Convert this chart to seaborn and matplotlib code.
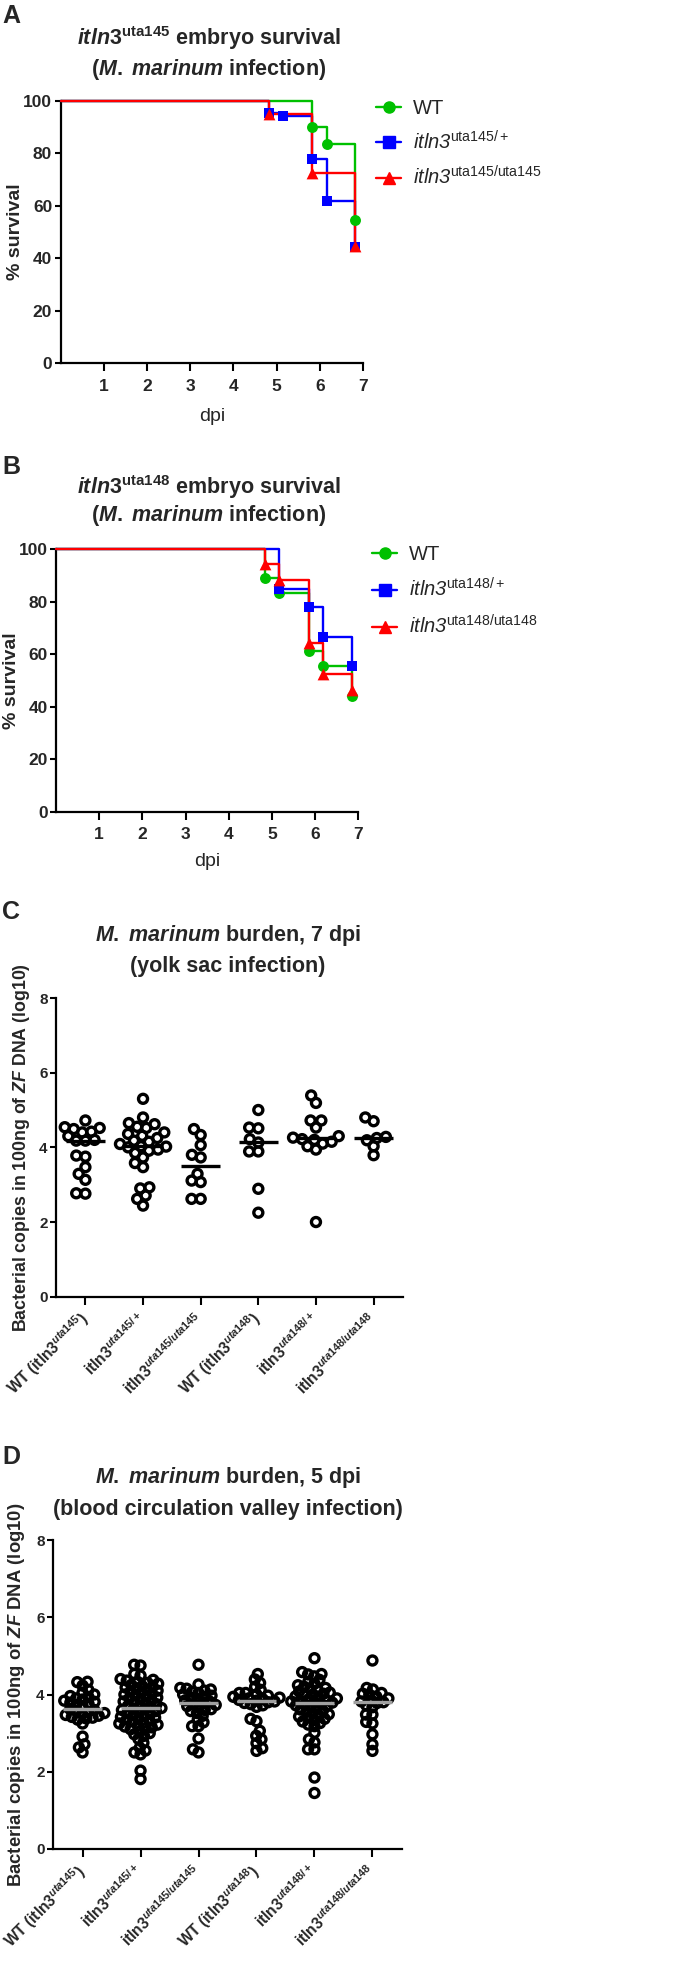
import numpy as np
import pandas as pd
import matplotlib
matplotlib.use("Agg")
import matplotlib.pyplot as plt
import seaborn as sns
from matplotlib import font_manager
from matplotlib.lines import Line2D
import warnings
warnings.filterwarnings("ignore")

# ---------------- data ----------------
# Panel A: itln3 uta145 survival (dpi, % survival)
A_WT_T = [0, 5.83, 6.16, 6.82]
A_WT_S = [100, 90.2, 83.6, 54.6]
A_HET_T = [0, 4.83, 5.16, 5.83, 6.16, 6.82]
A_HET_S = [100, 95.6, 94.3, 78.0, 61.8, 44.2]
A_HOM_T = [0, 4.83, 5.83, 6.82]
A_HOM_S = [100, 94.9, 72.4, 44.7]
A_LABELS = ["WT", r"$\mathcal{itln3}^{\mathsf{uta145/+}}$", r"$\mathcal{itln3}^{\mathsf{uta145/uta145}}$"]

# Panel B: itln3 uta148 survival
B_WT_T = [0, 4.84, 5.17, 5.85, 6.18, 6.85]
B_WT_S = [100, 88.8, 83.1, 61.0, 55.6, 44.2]
B_HET_T = [0, 5.17, 5.85, 6.18, 6.85]
B_HET_S = [100, 84.8, 77.8, 66.6, 55.5]
B_HOM_T = [0, 4.84, 5.17, 5.85, 6.18, 6.85]
B_HOM_S = [100, 94.2, 88.2, 64.1, 52.5, 46.3]
B_LABELS = ["WT", r"$\mathcal{itln3}^{\mathsf{uta148/+}}$", r"$\mathcal{itln3}^{\mathsf{uta148/uta148}}$"]

# Panel C: burden 7 dpi (log10 copies)
C_WT145 = [4.72, 4.54, 4.52, 4.49, 4.42, 4.40, 4.30, 4.20, 4.18, 4.18, 3.78, 3.75, 3.47, 3.29, 3.13, 2.77, 2.76]
C_HET145 = [5.30, 4.80, 4.65, 4.62, 4.55, 4.52, 4.40, 4.36, 4.31, 4.25, 4.18, 4.15, 4.09, 4.03, 4.02,
            4.00, 3.94, 3.91, 3.85, 3.73, 3.58, 3.47, 2.93, 2.90, 2.71, 2.62, 2.44]
C_HOM145 = [4.49, 4.33, 4.06, 3.80, 3.73, 3.29, 3.11, 3.07, 2.62, 2.62]
C_WT148 = [5.00, 4.53, 4.51, 4.22, 4.13, 3.89, 3.89, 2.89, 2.25]
C_HET148 = [5.39, 5.19, 4.72, 4.72, 4.53, 4.30, 4.26, 4.22, 4.20, 4.15, 4.10, 4.03, 3.94, 2.00]
C_HOM148 = [4.80, 4.70, 4.28, 4.25, 4.19, 4.03, 3.79]

# Panel D: burden 5 dpi (log10 copies)
D_WT145 = [4.33, 4.32, 4.23, 4.12, 4.05, 4.00, 3.96, 3.93, 3.90, 3.87, 3.84, 3.81, 3.79, 3.76, 3.73,
           3.70, 3.62, 3.60, 3.57, 3.55, 3.52, 3.50, 3.47, 3.45, 3.42, 3.40, 3.38, 3.35, 3.25, 2.91,
           2.71, 2.63, 2.50]
D_HET145 = [4.77, 4.75, 4.53, 4.49, 4.40, 4.38, 4.36, 4.33, 4.30, 4.28,
            4.25, 4.22, 4.20, 4.18, 4.15, 4.12, 4.10, 4.08, 4.05, 4.02,
            4.00, 3.98, 3.95, 3.92, 3.90, 3.88, 3.85, 3.82, 3.80, 3.78,
            3.75, 3.72, 3.70, 3.68, 3.65, 3.63, 3.62, 3.60, 3.57, 3.55,
            3.52, 3.50, 3.47, 3.45, 3.42, 3.40, 3.37, 3.35, 3.32, 3.30,
            3.27, 3.25, 3.22, 3.20, 3.17, 3.15, 3.12, 3.10, 3.05, 3.00,
            2.97, 2.93, 2.85, 2.75, 2.62, 2.55, 2.50, 2.45, 2.03, 1.81]
D_HOM145 = [4.77, 4.26, 4.17, 4.15, 4.13, 4.10, 4.07, 4.04, 4.00, 3.97,
            3.94, 3.91, 3.88, 3.85, 3.82, 3.79, 3.76, 3.73, 3.70, 3.67,
            3.62, 3.60, 3.57, 3.52, 3.45, 3.35, 3.28, 3.18, 3.18, 2.86, 2.58, 2.50]
D_WT148 = [4.53, 4.39, 4.30, 4.20, 4.12, 4.04, 4.04, 4.00, 3.97, 3.94,
           3.92, 3.90, 3.88, 3.86, 3.84, 3.82, 3.80, 3.78, 3.75, 3.72,
           3.68, 3.37, 3.31, 3.06, 2.93, 2.84, 2.74, 2.61, 2.54]
D_HET148 = [4.94, 4.58, 4.53, 4.52, 4.47, 4.38, 4.33, 4.28, 4.24, 4.20,
            4.17, 4.14, 4.11, 4.08, 4.05, 4.02, 4.00, 3.98, 3.95, 3.92,
            3.90, 3.88, 3.86, 3.84, 3.82, 3.80, 3.79, 3.77, 3.74, 3.72,
            3.70, 3.67, 3.64, 3.61, 3.58, 3.55, 3.52, 3.49, 3.46, 3.43,
            3.40, 3.37, 3.34, 3.30, 3.26, 3.22, 3.18, 3.01, 2.84, 2.76,
            2.58, 2.58, 1.85, 1.45]
D_HOM148 = [4.88, 4.17, 4.13, 4.04, 4.02, 4.00, 3.95, 3.90, 3.85, 3.82, 3.80,
            3.78, 3.72, 3.67, 3.48, 3.48, 3.29, 3.25, 2.97, 2.71, 2.54]

CATS = ["WT145", "HET145", "HOM145", "WT148", "HET148", "HOM148"]
XLABELS = [r"WT (itln3$^{\mathit{uta145}}$)", r"itln3$^{\mathit{uta145/+}}$",
           r"itln3$^{\mathit{uta145/uta145}}$", r"WT (itln3$^{\mathit{uta148}}$)",
           r"itln3$^{\mathit{uta148/+}}$", r"itln3$^{\mathit{uta148/uta148}}$"]
YLABEL_BURDEN = r"Bacterial copies in 100ng of $\mathbfit{ZF}$ DNA (log10)"

# ---------------- style ----------------
sns.set_theme(style="ticks")
names = {f.name for f in font_manager.fontManager.ttflist}
NARROW = "Liberation Sans Narrow" if "Liberation Sans Narrow" in names else "Liberation Sans"
WIDE = "Liberation Sans"
plt.rcParams["font.family"] = [NARROW, "Liberation Sans", "DejaVu Sans"]
plt.rcParams["mathtext.fontset"] = "custom"
plt.rcParams["mathtext.rm"] = NARROW + ":bold"
plt.rcParams["mathtext.bf"] = NARROW + ":bold"
plt.rcParams["mathtext.it"] = NARROW + ":italic:bold"
plt.rcParams["mathtext.bfit"] = WIDE + ":italic:bold"
plt.rcParams["mathtext.sf"] = NARROW
plt.rcParams["mathtext.cal"] = NARROW + ":italic"

W, H = 685, 1973
fig = plt.figure(figsize=(W / 100, H / 100), dpi=100)


def rect(l, r, t, b):
    return [l / W, 1 - b / H, (r - l) / W, (b - t) / H]


GREEN, BLUE, RED = "#00C000", "#0000FF", "#FF0000"
COLORS = [GREEN, BLUE, RED]
MARKERS = ["o", "s", "^"]
MSIZES = [62, 56, 72]
RING_SIZE, RING_LW = 6.5, 2.4


def style_axes(ax, xlen=5, ylen=4.5):
    for sp in ["top", "right"]:
        ax.spines[sp].set_visible(False)
    for sp in ["left", "bottom"]:
        ax.spines[sp].set_linewidth(1.6)
        ax.spines[sp].set_color("black")
    ax.tick_params(axis="x", length=xlen, width=1.5, color="black")
    ax.tick_params(axis="y", length=ylen, width=1.5, color="black", pad=1.5)
    ax.set_facecolor("white")


def survival(ax, series, labels, legend_xy, spacing, letter, title1, title2, ttl_y, letter_y, ylab_x, xlab_y):
    for i, ((t, s), c, m, sz) in enumerate(zip(series, COLORS, MARKERS, MSIZES)):
        df = pd.DataFrame({"t": t, "s": s})
        sns.lineplot(data=df, x="t", y="s", ax=ax, color=c, lw=1.7, drawstyle="steps-post",
                     estimator=None, sort=False, clip_on=False, zorder=3 + i)
        sns.scatterplot(data=df.iloc[1:], x="t", y="s", ax=ax, color=c, marker=m, s=sz,
                        edgecolor=c, linewidth=0, clip_on=False, zorder=6 + i)
    ax.set_xlim(0, 7)
    ax.set_ylim(0, 100)
    ax.set_xticks(range(1, 8))
    ax.set_yticks(range(0, 101, 20))
    style_axes(ax, xlen=6, ylen=4.5)
    for lab in ax.get_xticklabels() + ax.get_yticklabels():
        lab.set_fontweight("bold")
        lab.set_fontsize(12.5)
    ax.tick_params(axis="x", pad=5)
    ax.set_xlabel("dpi", fontsize=14, family=[NARROW])
    ax.set_ylabel("% survival", fontsize=14, fontweight="bold", family=[WIDE])
    ax.yaxis.set_label_coords(ylab_x, 0.5)
    ax.xaxis.set_label_coords(0.5, xlab_y)
    handles = [Line2D([], [], color=c, marker=m, markersize=8, lw=1.7) for c, m in zip(COLORS, MARKERS)]
    ax.legend(handles, labels, loc="upper left", bbox_to_anchor=legend_xy, bbox_transform=fig.transFigure,
              frameon=False, borderpad=0, borderaxespad=0, handlelength=1.25, handletextpad=0.6,
              labelspacing=spacing, prop={"family": [NARROW], "size": 14.5})
    fig.text(2 / W, 1 - letter_y / H, letter, fontsize=18, fontweight="bold", family=[WIDE], va="center")
    fig.text(209 / W, 1 - ttl_y[0] / H, title1, fontsize=15.5, fontweight="bold", ha="center", va="center")
    fig.text(209 / W, 1 - ttl_y[1] / H, title2, fontsize=15.5, fontweight="bold", ha="center", va="center")


def burden(ax, groups, linecolor, letter, title1, title2, ttl_y, letter_y, ylab_x, ylab_size,
           layout_size, layout_lw):
    df = pd.DataFrame({"g": [k for k, v in zip(CATS, groups) for _ in v],
                       "v": [x for v in groups for x in v]})
    ax.set_ylim(0, 8)
    ax.set_xlim(-0.51, 5.51)
    # swarm laid out with a smaller footprint so that rings overlap like the original
    sns.swarmplot(data=df, x="g", y="v", order=CATS, ax=ax, size=layout_size, color="black",
                  linewidth=layout_lw, edgecolor="black", warn_thresh=1, zorder=3)
    ax.set_ylim(0, 8)
    ax.set_xlim(-0.51, 5.51)
    ax._swarm_colls = list(ax.collections)
    for i, v in enumerate(groups):
        ax.hlines(np.median(v), i - 0.34, i + 0.34, color=linecolor, lw=2.4, zorder=6)
    ax.set_yticks([0, 2, 4, 6, 8])
    style_axes(ax, xlen=6, ylen=4.5)
    ax.set_xticks(range(6))
    ax.set_xticklabels(XLABELS, rotation=45, ha="right", va="center", rotation_mode="anchor",
                       fontsize=11.2, fontweight="bold")
    ax.tick_params(axis="x", pad=8)
    for lab in ax.get_yticklabels():
        lab.set_fontweight("bold")
        lab.set_fontsize(11)
    ax.set_xlabel("")
    ax.set_ylabel(YLABEL_BURDEN, fontsize=ylab_size, fontweight="bold", family=[WIDE])
    ax.yaxis.set_label_coords(ylab_x, 0.5)
    fig.text(2 / W, 1 - letter_y / H, letter, fontsize=18, fontweight="bold", family=[WIDE], va="center")
    fig.text(228 / W, 1 - ttl_y[0] / H, title1, fontsize=15.5, fontweight="bold", ha="center", va="center")
    fig.text(228 / W, 1 - ttl_y[1] / H, title2, fontsize=15.5, fontweight="bold", ha="center", va="center")


MMAR = r"$\mathit{M.}$ $\mathit{marinum}$"

axA = fig.add_axes(rect(60.5, 363, 101, 363.3))
survival(axA, [(A_WT_T, A_WT_S), (A_HET_T, A_HET_S), (A_HOM_T, A_HOM_S)], A_LABELS,
         (376 / W, 1 - 99 / H), 0.6, "A",
         r"$\mathit{itln3}^{\mathrm{uta145}}$ embryo survival", "(" + MMAR + " infection)",
         (38, 69), 16, -0.121, -0.17)

axB = fig.add_axes(rect(56, 358.3, 549, 811.7))
survival(axB, [(B_WT_T, B_WT_S), (B_HET_T, B_HET_S), (B_HOM_T, B_HOM_S)], B_LABELS,
         (372 / W, 1 - 545 / H), 0.68, "B",
         r"$\mathit{itln3}^{\mathrm{uta148}}$ embryo survival", "(" + MMAR + " infection)",
         (487, 516), 467, -0.119, -0.157)

axC = fig.add_axes(rect(56, 403, 998, 1296.7))
burden(axC, [C_WT145, C_HET145, C_HOM145, C_WT148, C_HET148, C_HOM148], "black", "C",
       MMAR + " burden, 7 dpi", "(yolk sac infection)", (935, 967), 912, -0.069, 12.8, 5.0, 1.3)

axD = fig.add_axes(rect(53, 402, 1540, 1849))
burden(axD, [D_WT145, D_HET145, D_HOM145, D_WT148, D_HET148, D_HOM148], "#A0A0A0", "D",
       MMAR + " burden, 5 dpi", "(blood circulation valley infection)", (1478, 1509), 1457, -0.0745, 13.3,
       3.4, 1.0)

# first draw: seaborn computes the swarm positions with the compact footprint
fig.canvas.draw()
for ax in (axC, axD):
    for coll in ax._swarm_colls:
        if "draw" in coll.__dict__:
            del coll.__dict__["draw"]
        coll.set_sizes([RING_SIZE ** 2])
        coll.set_facecolor("none")
        coll.set_edgecolor("black")
        coll.set_linewidth(RING_LW)

fig.savefig("out.png", dpi=100, facecolor="white")
